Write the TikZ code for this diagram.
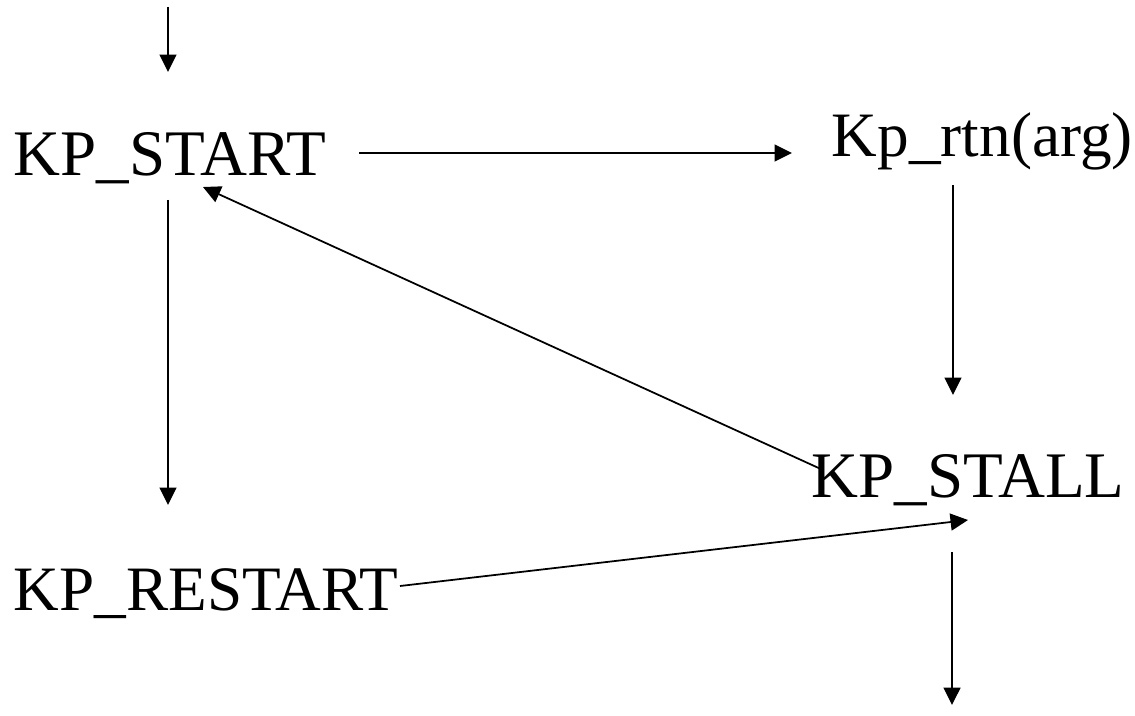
\documentclass[tikz,border=0pt]{standalone}
\usepackage{fontspec}
\setmainfont{Liberation Serif}
\usepackage{tikz}
\usetikzlibrary{arrows.meta}

\begin{document}
\begin{tikzpicture}[x=0.02cm, y=-0.02cm, >={Triangle[length=3.5mm, width=3.4mm]},
		every path/.style={line width=1pt},
		state/.style={anchor=base west, inner sep=0pt, font=\fontsize{37}{42}\selectfont},
		small state/.style={state, font=\fontsize{36}{41}\selectfont}]
		\useasboundingbox (0,0) rectangle (1135,716);
		\node[state] (start) at (13,175) {KP\_START};
		\node[small state] (rtn) at (831,157) {Kp\_rtn(arg)};
		\node[state] (stall) at (811,497) {KP\_STALL};
		\node[small state] (restart) at (13,610) {KP\_RESTART};
		\coordinate (entry) at (168,7);
		\coordinate (exit) at (952,705);
		\draw[->] (entry) -- ([shift={(155,-103)}]start.base west);
		\draw[->] ([shift={(346,-22)}]start.base west) -- ([shift={(-39,-4)}]rtn.base west);
		\draw[->] ([shift={(122,28)}]rtn.base west) -- ([shift={(142,-102)}]stall.base west);
		\draw[->] ([shift={(12,-27)}]stall.base west) -- ([shift={(190,12)}]start.base west);
		\draw[->] ([shift={(155,25)}]start.base west) -- ([shift={(155,-105)}]restart.base west);
		\draw[->] ([shift={(387,-24)}]restart.base west) -- ([shift={(157,23)}]stall.base west);
		\draw[->] ([shift={(141,55)}]stall.base west) -- (exit);
	\end{tikzpicture}
\end{document}
